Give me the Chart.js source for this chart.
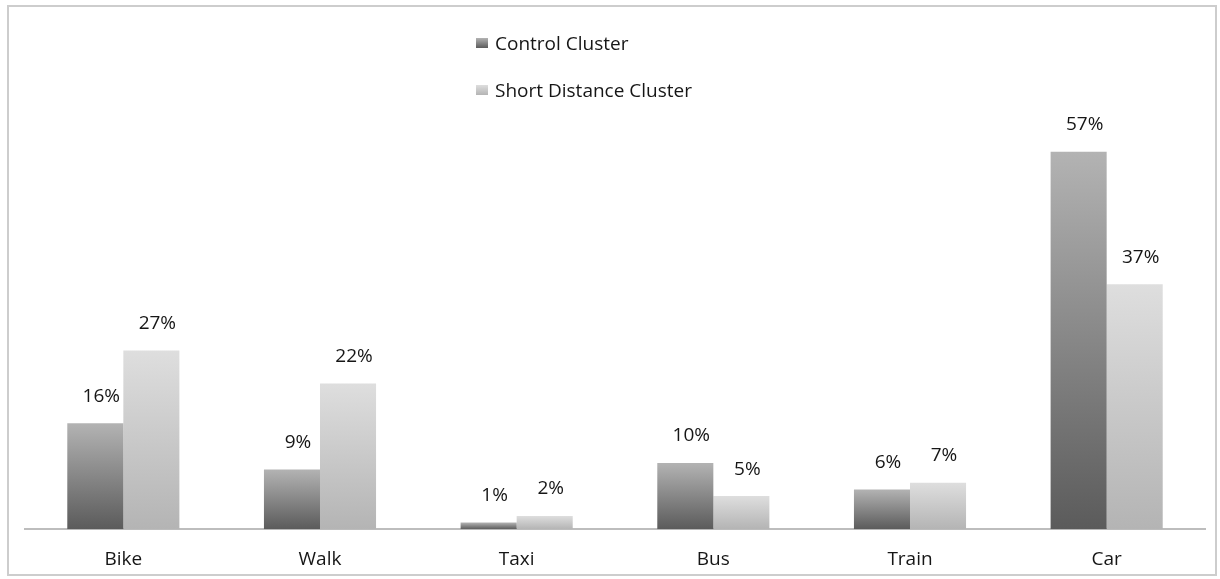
<!DOCTYPE html>
<html>
<head>
<meta charset="utf-8">
<script src="https://cdn.jsdelivr.net/npm/chart.js@4/dist/chart.umd.min.js"></script>
<style>
    body { margin: 0; background: #fff; }
    #wrap { position: relative; width: 1220px; height: 579px; overflow: hidden; }
    #frame { position: absolute; left: 7px; top: 5px; width: 1210px; height: 571px; border: 2px solid #cdcdcd; box-sizing: border-box; pointer-events: none; }
    #legend { position: absolute; left: 476px; top: 29px; font-family: 'Open Sans', sans-serif; font-size: 19px; color: #161616; }
    #legend .item { display: flex; align-items: center; height: 28px; margin-bottom: 19px; }
    #legend .box { width: 12px; height: 10px; margin-right: 7px; }
</style>
</head>
<body>
<div id="wrap">
    <canvas id="mode-chart" width="1220" height="579"></canvas>
    <div id="frame"></div>
    <div id="legend"></div>
</div>
<script>
const categories = ['Bike', 'Walk', 'Taxi', 'Bus', 'Train', 'Car'];
const seriesNames = ['Control Cluster', 'Short Distance Cluster'];
const controlValues = [16, 9, 1, 10, 6, 57];
const shortDistanceValues = [27, 22, 2, 5, 7, 37];

// top / bottom colour of each bar's vertical gradient
const controlShades = ['#b3b3b3', '#5b5b5b'];
const shortShades = ['#dedede', '#b4b4b4'];

function barGradient(shades) {
    return ctx => {
        const chart = ctx.chart;
        const y = chart.scales.y;
        if (!chart.chartArea || !y || ctx.type !== 'data') return shades[1];
        const yTop = y.getPixelForValue(ctx.raw);
        const yBase = y.getPixelForValue(0);
        const g = chart.ctx.createLinearGradient(0, yTop, 0, yBase);
        g.addColorStop(0, shades[0]);
        g.addColorStop(1, shades[1]);
        return g;
    };
}

const percentLabels = {
    id: 'percentLabels',
    afterDatasetsDraw(chart) {
        const ctx = chart.ctx;
        ctx.save();
        ctx.font = '19px "Open Sans", sans-serif';
        ctx.fillStyle = '#161616';
        ctx.textAlign = 'center';
        ctx.textBaseline = 'middle';
        chart.data.datasets.forEach((ds, i) => {
            chart.getDatasetMeta(i).data.forEach((bar, j) => {
                ctx.fillText(ds.data[j] + '%', bar.x + 6, bar.y - 27);
            });
        });
        ctx.restore();
    }
};

// html legend, stacked like the original
const legendEl = document.getElementById('legend');
[controlShades, shortShades].forEach((shades, i) => {
    const item = document.createElement('div');
    item.className = 'item';
    const box = document.createElement('span');
    box.className = 'box';
    box.style.background = `linear-gradient(${shades[0]}, ${shades[1]})`;
    const txt = document.createElement('span');
    txt.textContent = seriesNames[i];
    item.appendChild(box);
    item.appendChild(txt);
    legendEl.appendChild(item);
});

const ctx = document.getElementById('mode-chart').getContext('2d');
const modeChart = new Chart(ctx, {
    type: 'bar',
    data: {
        labels: categories,
        datasets: [
            {
                label: seriesNames[0],
                data: controlValues,
                backgroundColor: barGradient(controlShades),
                categoryPercentage: 0.57,
                barPercentage: 1
            },
            {
                label: seriesNames[1],
                data: shortDistanceValues,
                backgroundColor: barGradient(shortShades),
                categoryPercentage: 0.57,
                barPercentage: 1
            }
        ]
    },
    options: {
        responsive: false,
        animation: false,
        layout: {
            padding: { left: 25, right: 15, top: 132, bottom: -3 }
        },
        plugins: {
            legend: { display: false },
            tooltip: { enabled: false }
        },
        scales: {
            x: {
                grid: { display: false },
                border: { display: true, color: '#bdbdbd', width: 2 },
                ticks: {
                    color: '#161616',
                    padding: 11,
                    font: { family: 'Open Sans', size: 19 }
                }
            },
            y: {
                display: false,
                min: 0,
                max: 60
            }
        }
    },
    plugins: [percentLabels]
});
</script>
</body>
</html>
